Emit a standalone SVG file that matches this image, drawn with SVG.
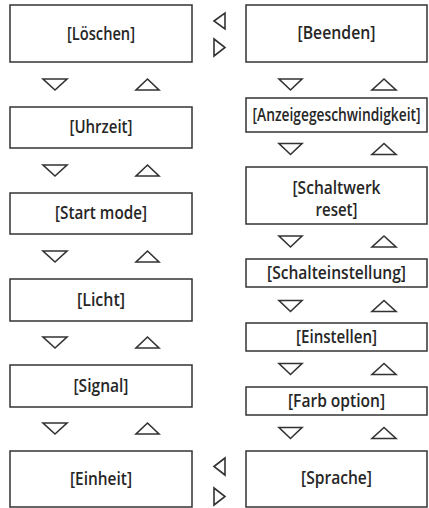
<svg xmlns="http://www.w3.org/2000/svg" width="429" height="508" viewBox="0 0 429 508">
<style>
.box{fill:#fff;stroke:#333;stroke-width:1.5}
.tri{fill:none;stroke:#333;stroke-width:1.6;stroke-linejoin:miter}
.t{font-family:"Open Sans","Noto Sans",sans-serif;font-weight:600;font-size:18px;fill:#262626;text-anchor:middle}
</style>
<rect width="429" height="508" fill="#fff"/>
<g id="n-loeschen"><rect class="box" x="10" y="5" width="182" height="57"/><text class="t" x="101" y="39.5" textLength="68" lengthAdjust="spacingAndGlyphs">[Löschen]</text></g>
<g id="n-uhrzeit"><rect class="box" x="10" y="107" width="182" height="41"/><text class="t" x="101" y="133" textLength="63" lengthAdjust="spacingAndGlyphs">[Uhrzeit]</text></g>
<g id="n-start"><rect class="box" x="10" y="193" width="182" height="41"/><text class="t" x="101" y="219" textLength="92" lengthAdjust="spacingAndGlyphs">[Start mode]</text></g>
<g id="n-licht"><rect class="box" x="10" y="279" width="182" height="42"/><text class="t" x="101" y="305.5" textLength="48" lengthAdjust="spacingAndGlyphs">[Licht]</text></g>
<g id="n-signal"><rect class="box" x="10" y="365" width="182" height="42"/><text class="t" x="101" y="391.5" textLength="55" lengthAdjust="spacingAndGlyphs">[Signal]</text></g>
<g id="n-einheit"><rect class="box" x="10" y="451" width="182" height="56"/><text class="t" x="101" y="484.5" textLength="62" lengthAdjust="spacingAndGlyphs">[Einheit]</text></g>
<g id="n-beenden"><rect class="box" x="246" y="5" width="181" height="57"/><text class="t" x="336.5" y="39" textLength="78" lengthAdjust="spacingAndGlyphs">[Beenden]</text></g>
<g id="n-anzeige"><rect class="box" x="246" y="98" width="181" height="34"/><text class="t" x="336.5" y="120.5" font-size="17" textLength="168" lengthAdjust="spacingAndGlyphs">[Anzeigegeschwindigkeit]</text></g>
<g id="n-schaltwerk"><rect class="box" x="246" y="167" width="181" height="57"/><text class="t" x="336.5" y="193.5" textLength="88" lengthAdjust="spacingAndGlyphs">[Schaltwerk</text><text class="t" x="336.5" y="215.5" textLength="42" lengthAdjust="spacingAndGlyphs">reset]</text></g>
<g id="n-schalteinst"><rect class="box" x="246" y="259" width="181" height="28"/><text class="t" x="336.5" y="279" textLength="139" lengthAdjust="spacingAndGlyphs">[Schalteinstellung]</text></g>
<g id="n-einstellen"><rect class="box" x="246" y="323" width="181" height="28"/><text class="t" x="336.5" y="343" textLength="81" lengthAdjust="spacingAndGlyphs">[Einstellen]</text></g>
<g id="n-farb"><rect class="box" x="246" y="387" width="181" height="28"/><text class="t" x="336.5" y="407" textLength="97" lengthAdjust="spacingAndGlyphs">[Farb option]</text></g>
<g id="n-sprache"><rect class="box" x="246" y="451" width="181" height="56"/><text class="t" x="336.5" y="483.5" textLength="71" lengthAdjust="spacingAndGlyphs">[Sprache]</text></g>
<g id="connectors">
<polygon class="tri" points="43,79 67,79 55,90"/><polygon class="tri" points="136,90 159,90 147.5,79"/>
<polygon class="tri" points="43,165 67,165 55,176"/><polygon class="tri" points="136,176 159,176 147.5,165"/>
<polygon class="tri" points="43,251 67,251 55,262"/><polygon class="tri" points="136,262 159,262 147.5,251"/>
<polygon class="tri" points="43,337 67,337 55,348"/><polygon class="tri" points="136,348 159,348 147.5,337"/>
<polygon class="tri" points="43,423 67,423 55,434"/><polygon class="tri" points="136,434 159,434 147.5,423"/>
<polygon class="tri" points="279,79 302,79 290.5,90"/><polygon class="tri" points="372,90 396,90 384,79"/>
<polygon class="tri" points="279,143.5 302,143.5 290.5,154.5"/><polygon class="tri" points="372,154.5 396,154.5 384,143.5"/>
<polygon class="tri" points="279,236 302,236 290.5,247"/><polygon class="tri" points="372,247 396,247 384,236"/>
<polygon class="tri" points="279,300.5 302,300.5 290.5,311.5"/><polygon class="tri" points="372,311.5 396,311.5 384,300.5"/>
<polygon class="tri" points="279,363.5 302,363.5 290.5,374.5"/><polygon class="tri" points="372,374.5 396,374.5 384,363.5"/>
<polygon class="tri" points="279,427.5 302,427.5 290.5,438.5"/><polygon class="tri" points="372,438.5 396,438.5 384,427.5"/>
<polygon class="tri" points="214,21 225,13 225,29"/><polygon class="tri" points="214,39 214,56 225,47.5"/>
<polygon class="tri" points="214,466.5 225,458 225,475"/><polygon class="tri" points="214,488 214,505 225,496.5"/>
</g>
</svg>
